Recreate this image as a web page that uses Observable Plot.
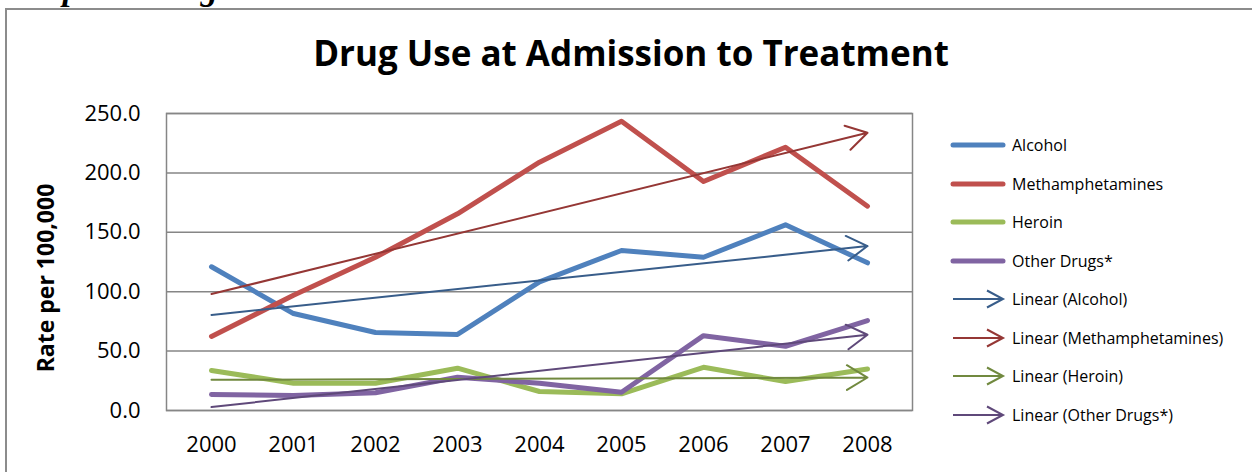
<!DOCTYPE html>
<html>
<head>
<meta charset="utf-8">
<script src="https://cdn.jsdelivr.net/npm/d3@7"></script>
<script src="https://cdn.jsdelivr.net/npm/@observablehq/plot@0.6"></script>
<style>
  html, body { margin: 0; padding: 0; background: #fff; overflow: hidden; }
  #wrap { position: relative; width: 1252px; height: 472px; overflow: hidden; font-family: "Open Sans", sans-serif; }
  #doc { position: absolute; left: 8px; top: -28px; font-family: "Liberation Serif", serif; font-weight: bold; font-style: italic; font-size: 34px; line-height: 34px; white-space: nowrap; color: #000; }
  #frame { position: absolute; left: 5px; top: 8px; width: 1400px; height: 600px; border-left: 2px solid #8c8c8c; border-top: 2px solid #8c8c8c; box-sizing: border-box; }
  #title { position: absolute; left: 0; width: 1262px; top: 35px; text-align: center; font-weight: bold; font-size: 35px; line-height: 35px; color: #000; white-space: nowrap; }
  #ylab { position: absolute; left: 45px; top: 278px; transform: translate(-50%, -50%) rotate(-90deg); font-weight: bold; font-size: 23px; white-space: nowrap; color: #000; }
  #chart { position: absolute; left: 0; top: 0; }
  #legend { position: absolute; left: 950px; top: 126px; }
  .row { display: flex; align-items: center; height: 38.5px; font-size: 16px; color: #000; white-space: nowrap; }
  .row svg { margin-right: 6px; }
</style>
</head>
<body>
<div id="wrap">
  <div id="doc">Graph 1: Drug Use at Admission to Treatment</div>
  <div id="frame"></div>
  <div id="chart"></div>
  <div id="title">Drug Use at Admission to Treatment</div>
  <div id="ylab">Rate per 100,000</div>
  <div id="legend"></div>
</div>
<script>
const years = ["2000", "2001", "2002", "2003", "2004", "2005", "2006", "2007", "2008"];
const seriesNames = ["Alcohol", "Methamphetamines", "Heroin", "Other Drugs*"];
const alcohol = [121.0, 81.6, 65.7, 64.0, 108.3, 134.7, 129.0, 156.3, 124.3];
const methamphetamines = [62.3, 97.0, 129.0, 165.6, 209.0, 243.5, 192.8, 221.6, 172.0];
const heroin = [33.7, 23.0, 23.0, 35.6, 16.0, 14.0, 36.4, 24.4, 35.0];
const otherDrugs = [13.5, 12.6, 14.9, 28.0, 23.0, 15.4, 63.0, 54.0, 75.7];
const seriesColors = ["#4F81BD", "#C0504D", "#9BBB59", "#8064A2"];
const trendColors = ["#385D8A", "#953735", "#71893F", "#5F497A"];
const yTicks = [0, 50, 100, 150, 200, 250];

const seriesValues = [alcohol, methamphetamines, heroin, otherDrugs];

// tidy rows for the lines
const rows = [];
seriesNames.forEach((name, i) => {
  seriesValues[i].forEach((v, j) => rows.push({series: name, year: years[j], value: v}));
});

// least-squares linear trend (as Excel's "Linear" trendline)
const trends = seriesNames.map((name, i) => {
  const ys = seriesValues[i];
  const xs = ys.map((_, j) => j + 1);
  const mx = d3.mean(xs), my = d3.mean(ys);
  const slope = d3.sum(xs, (x, k) => (x - mx) * (ys[k] - my)) / d3.sum(xs, x => (x - mx) ** 2);
  const icpt = my - slope * mx;
  return {
    series: name,
    x1: years[0], y1: icpt + slope * xs[0],
    x2: years[years.length - 1], y2: icpt + slope * xs[xs.length - 1]
  };
});

const colorOf = Object.fromEntries(seriesNames.map((n, i) => [n, seriesColors[i]]));
const trendColorOf = Object.fromEntries(seriesNames.map((n, i) => [n, trendColors[i]]));

const chart = Plot.plot({
  width: 1252,
  height: 472,
  marginTop: 113,
  marginBottom: 62,
  marginLeft: 166,
  marginRight: 340,
  style: {fontFamily: "Open Sans, sans-serif", background: "transparent", color: "#000"},
  x: {type: "point", domain: years, padding: 0.5},
  y: {domain: [0, 250]},
  marks: [
    Plot.gridY(yTicks, {stroke: "#868686", strokeOpacity: 1, strokeWidth: 1.5}),
    Plot.frame({stroke: "#868686", strokeWidth: 1.5}),
    Plot.axisY(yTicks, {tickSize: 0, tickPadding: 26, fontSize: 22, tickFormat: d3.format(".1f"), label: null}),
    Plot.axisX(years, {tickSize: 0, tickPadding: 26, fontSize: 22, label: null}),
    ...seriesNames.map(name => Plot.line(rows.filter(r => r.series === name), {
      x: "year", y: "value", stroke: colorOf[name], strokeWidth: 5,
      strokeLinejoin: "round", strokeLinecap: "round"
    })),
    Plot.arrow(trends, {
      x1: "x1", y1: "y1", x2: "x2", y2: "y2",
      stroke: d => trendColorOf[d.series], strokeWidth: 2,
      headLength: 18, headAngle: 62
    })
  ]
});
document.getElementById("chart").appendChild(chart);

// legend
const legend = document.getElementById("legend");
const ns = "http://www.w3.org/2000/svg";
function swatch(color, arrow) {
  const s = document.createElementNS(ns, "svg");
  s.setAttribute("width", 56); s.setAttribute("height", 20);
  const l = document.createElementNS(ns, "line");
  l.setAttribute("x1", 3); l.setAttribute("x2", arrow ? 52 : 53);
  l.setAttribute("y1", 10); l.setAttribute("y2", 10);
  l.setAttribute("stroke", color);
  l.setAttribute("stroke-width", arrow ? 2 : 5);
  l.setAttribute("stroke-linecap", arrow ? "butt" : "round");
  s.appendChild(l);
  if (arrow) {
    const p = document.createElementNS(ns, "path");
    p.setAttribute("d", "M37,1.5 L53,10 L37,18.5");
    p.setAttribute("fill", "none");
    p.setAttribute("stroke", color);
    p.setAttribute("stroke-width", 2);
    s.appendChild(p);
  }
  return s;
}
function addRow(label, color, arrow) {
  const r = document.createElement("div");
  r.className = "row";
  r.appendChild(swatch(color, arrow));
  const t = document.createElement("span");
  t.textContent = label;
  r.appendChild(t);
  legend.appendChild(r);
}
seriesNames.forEach((n, i) => addRow(n, seriesColors[i], false));
seriesNames.forEach((n, i) => addRow(`Linear (${n})`, trendColors[i], true));
</script>
</body>
</html>
